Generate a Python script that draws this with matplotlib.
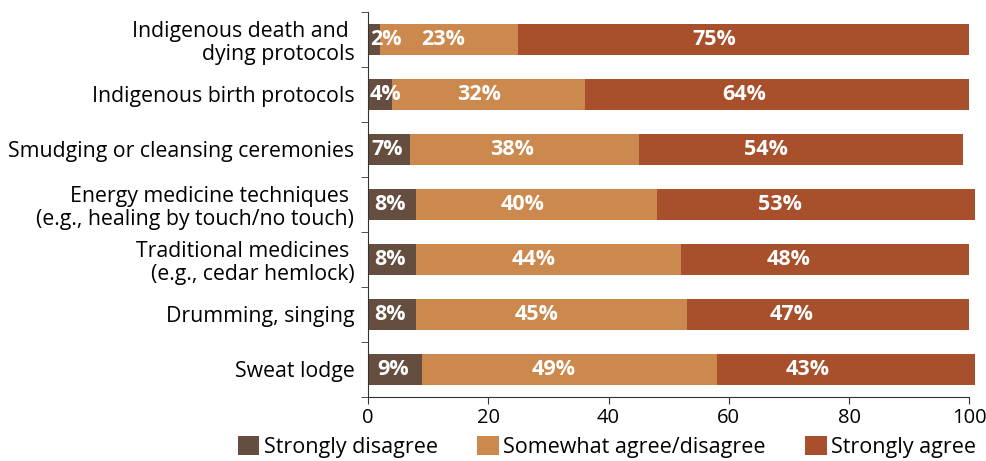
"""Agreement with Indigenous practices, stacked bar chart."""
import matplotlib.pyplot as plt
import numpy as np

plt.rcParams['font.family'] = ['Open Sans', 'DejaVu Sans']

practices = [
    "Indigenous death and \ndying protocols",
    "Indigenous birth protocols",
    "Smudging or cleansing ceremonies",
    "Energy medicine techniques \n(e.g., healing by touch/no touch)",
    "Traditional medicines \n(e.g., cedar hemlock)",
    "Drumming, singing",
    "Sweat lodge",
]
strongly_disagree = [2, 4, 7, 8, 8, 8, 9]
somewhat = [23, 32, 38, 40, 44, 45, 49]
strongly_agree = [75, 64, 54, 53, 48, 47, 43]

series = ["Strongly disagree", "Somewhat agree/disagree", "Strongly agree"]
colors = ["#654E3F", "#CC894E", "#A8502C"]

# value labels sit a bit left of each segment's middle, never past the axis
LABEL_SHIFT = 0.92
LABEL_MIN_X = 2.9

fig = plt.figure(figsize=(9.87, 4.61), dpi=100)
ax = fig.add_axes([0.373, 0.139, 0.609, 0.835])

y = np.arange(len(practices))
left = np.zeros(len(practices))
for name, vals, c in zip(series, [strongly_disagree, somewhat, strongly_agree], colors):
    vals = np.array(vals)
    ax.barh(y, vals, left=left, height=0.56, color=c, label=name, clip_on=False)
    for yy, l, v in zip(y, left, vals):
        x = max((l + v / 2) * LABEL_SHIFT, LABEL_MIN_X)
        ax.text(x, yy, f"{v}%", ha="center", va="center",
                color="white", fontsize=15.5, fontweight="bold")
    left += vals

ax.set_ylim(len(practices) - 0.5, -0.5)
ax.set_xlim(0, 100)
ax.set_yticks(y)
ax.set_yticklabels(practices, fontsize=15.3, linespacing=1.12)
ax.set_yticks(np.arange(len(practices) + 1) - 0.5, minor=True)
ax.tick_params(axis="y", which="major", length=0, pad=10)
ax.tick_params(axis="y", which="minor", length=5, color="#333333")
ax.set_xticks([0, 20, 40, 60, 80, 100])
ax.tick_params(axis="x", length=5, labelsize=14.5, color="#333333", pad=3)
for s in ["top", "right"]:
    ax.spines[s].set_visible(False)
for s in ["left", "bottom"]:
    ax.spines[s].set_color("#333333")

fig.legend(loc="lower center", bbox_to_anchor=(0.615, -0.035), ncol=3, frameon=False,
           fontsize=15.5, handlelength=1.0, handleheight=1.0, handletextpad=0.2,
           columnspacing=1.85)

fig.savefig("out.png", dpi=100)
